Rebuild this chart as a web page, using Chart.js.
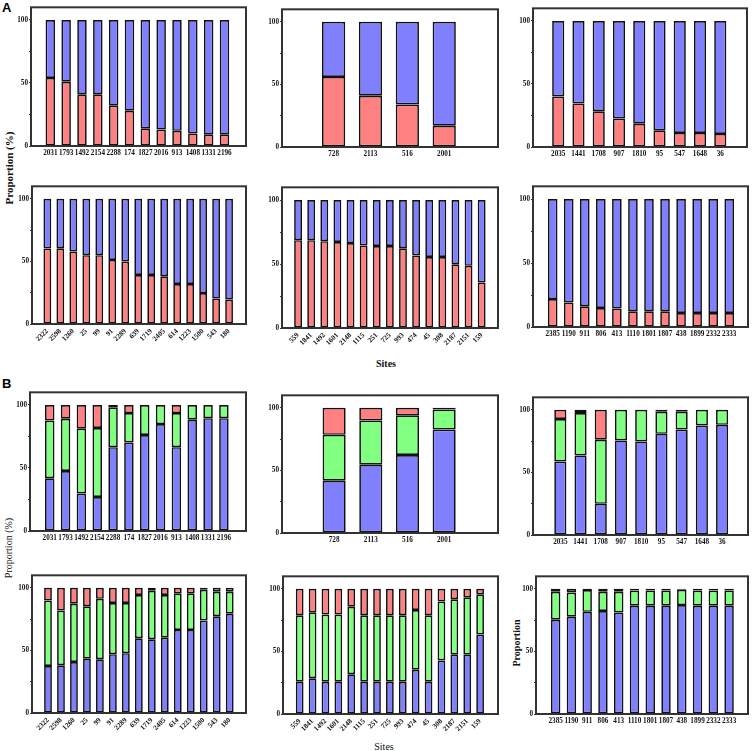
<!DOCTYPE html>
<html>
<head>
<meta charset="utf-8">
<script src="https://cdn.jsdelivr.net/npm/chart.js@4.4.1/dist/chart.umd.min.js"></script>
<style>
  body { margin: 0; background: #fff; width: 752px; height: 751px; position: relative; overflow: hidden; }
  canvas { position: absolute; }
  .t { position: absolute; font-family: "Liberation Serif", "Times New Roman", serif; color: #111; white-space: nowrap; }
  .v { transform: translate(-50%, -50%) rotate(-90deg); }
  .h { transform: translate(-50%, -50%); }
  .letter { position: absolute; font-family: "Liberation Sans", Arial, sans-serif; font-weight: bold; font-size: 13px; color: #000; }
</style>
</head>
<body>
<div class="letter" style="left:2px;top:0px">A</div>
<div class="letter" style="left:2px;top:376px">B</div>
<div class="t v" style="left:9px;top:168px;font-size:11px;font-weight:bold">Proportion (%)</div>
<div class="t v" style="left:8px;top:548px;font-size:10px">Proportion (%)</div>
<div class="t h" style="left:386px;top:363px;font-size:10px;font-weight:bold">Sites</div>
<div class="t h" style="left:384px;top:746px;font-size:10px">Sites</div>
<div class="t v" style="left:516px;top:643px;font-size:10px;font-weight:bold">Proportion</div>

<canvas id="a1"></canvas><canvas id="a2"></canvas><canvas id="a3"></canvas>
<canvas id="a4"></canvas><canvas id="a5"></canvas><canvas id="a6"></canvas>
<canvas id="b1"></canvas><canvas id="b2"></canvas><canvas id="b3"></canvas>
<canvas id="b4"></canvas><canvas id="b5"></canvas><canvas id="b6"></canvas>

<script>
// site labels (shared by A and B)
const sites1 = ['2031', '1793', '1492', '2154', '2288', '174', '1827', '2016', '913', '1408', '1331', '2196'];
const sites2 = ['728', '2113', '516', '2001'];
const sites3 = ['2035', '1441', '1708', '907', '1810', '95', '547', '1648', '36'];
const sites4 = ['2322', '2598', '1260', '25', '99', '91', '2289', '639', '1719', '2405', '614', '1223', '1500', '543', '180'];
const sites5 = ['559', '1841', '1492', '1601', '2148', '1115', '251', '725', '993', '474', '45', '308', '2187', '2151', '159'];
const sites6 = ['2385', '1190', '911', '806', '413', '1110', '1801', '1807', '438', '1899', '2332', '2333'];

const yTicks = [0, 25, 50, 75, 100];

// panel A: red (bottom) / blue (top)
const redA1 = [54, 51, 41, 41, 32, 28, 14, 13, 12, 10, 9, 9];
const blueA1 = [46, 49, 59, 59, 68, 72, 86, 87, 88, 90, 91, 91];
const redA2 = [56, 41, 34, 17];
const blueA2 = [44, 59, 66, 83];
const redA3 = [40, 34.5, 28.3, 22.6, 18.4, 13.2, 11.2, 11.2, 10.4];
const blueA3 = [60, 65.5, 71.7, 77.4, 81.6, 86.8, 88.8, 88.8, 89.6];
const redA4 = [60.3, 60.5, 57.9, 55, 55, 51.2, 49.9, 39.2, 39.2, 38.2, 32, 32, 24.7, 20.3, 19.5];
const blueA4 = [39.7, 39.5, 42.1, 45, 45, 48.8, 50.1, 60.8, 60.8, 61.8, 68, 68, 75.3, 79.7, 80.5];
const redA5 = [68.7, 68.7, 67.9, 67.2, 66.4, 64.6, 64.1, 64.1, 62.3, 56.7, 55.5, 55.5, 49.9, 48.6, 35.6];
const blueA5 = [31.3, 31.3, 32.1, 32.8, 33.6, 35.4, 35.9, 35.9, 37.7, 43.3, 44.5, 44.5, 50.1, 51.4, 64.4];
const redA6 = [21.8, 19.2, 16.2, 14.9, 14.4, 12.3, 12.3, 12.3, 11, 11, 11, 11];
const blueA6 = [78.2, 80.8, 83.8, 85.1, 85.6, 87.7, 87.7, 87.7, 89, 89, 89, 89];

// panel B: blue (bottom) / green / red (top)
const blueB1 = [41.9, 47.6, 29.8, 27, 66.5, 70.2, 76.2, 84.8, 66.5, 88.2, 89.5, 89.5];
const greenB1 = [45.8, 41.4, 51.4, 54.7, 31.7, 23.3, 23.8, 15.2, 27, 11.8, 10.5, 10.5];
const redB1 = [12.3, 11, 18.8, 18.3, 1.8, 6.5, 0, 0, 6.5, 0, 0, 0];
const blueB2 = [41.8, 54.5, 62.3, 82.6];
const greenB2 = [36.6, 35.4, 31.7, 16.1];
const redB2 = [21.6, 10.1, 6, 1.3];
const blueB3 = [58.7, 63.6, 24.9, 75.6, 74.8, 80.8, 84.2, 87.5, 88];
const greenB3 = [34, 33.8, 51.2, 24.4, 25.2, 17.6, 14.2, 12.5, 12];
const redB3 = [7.3, 2.6, 23.9, 0, 0, 1.6, 1.6, 0, 0];
const blueB4 = [37.5, 38.2, 40.8, 43.4, 42.9, 47, 47.8, 59.7, 58.9, 60.2, 66.4, 66.4, 73.9, 77.3, 79.3];
const greenB4 = [52.4, 43.7, 46.5, 41.9, 48.3, 40.9, 40.1, 34.6, 38.8, 34.1, 29.2, 29.2, 24.5, 19.6, 17.6];
const redB4 = [10.1, 18.1, 12.7, 14.7, 8.8, 12.1, 12.1, 5.7, 2.3, 5.7, 4.4, 4.4, 1.6, 3.1, 3.1];
const blueB5 = [25.8, 28.6, 25.8, 25.8, 31.8, 25.8, 25.8, 25.8, 25.8, 35.4, 25.8, 42.7, 47.4, 47.4, 63.5];
const greenB5 = [53.1, 52.6, 53.6, 53.6, 53.9, 53.1, 53.1, 53.1, 53.1, 47.7, 53.1, 47.1, 44.3, 45.8, 32.1];
const redB5 = [21.1, 18.8, 20.6, 20.6, 14.3, 21.1, 21.1, 21.1, 21.1, 16.9, 21.1, 10.2, 8.3, 6.8, 4.4];
const blueB6 = [75.3, 77.7, 81.6, 82.3, 81, 86.5, 86.5, 86.5, 87, 86.5, 86.5, 86.5];
const greenB6 = [22.4, 19.4, 17.4, 15.4, 16.7, 12.2, 12.2, 12.2, 12.2, 12.2, 12.2, 12.2];
const redB6 = [2.3, 2.9, 1, 2.3, 2.3, 1.3, 1.3, 1.3, 0.8, 1.3, 1.3, 1.3];

const RED = '#ff8080', BLUE = '#8080ff', GREEN = '#80ff80';

Chart.defaults.font.family = '"Liberation Serif", "Times New Roman", serif';

// frame around the plot area
const framePlugin = {
  id: 'frame',
  afterDraw(chart) {
    const { ctx, chartArea: a } = chart;
    ctx.save();
    ctx.strokeStyle = '#333';
    ctx.lineWidth = 2;
    ctx.strokeRect(a.left, a.top, a.right - a.left, a.bottom - a.top);
    ctx.restore();
  }
};

// box: frame edges (l,t,r,b) and centres of first/last bar, page pixels
function makePanel(id, box, sites, series, rotated) {
  const yW = 24, xH = rotated ? 24 : 16;
  const canvas = document.getElementById(id);
  canvas.width = box.r - box.l + yW + 3;
  canvas.height = box.b - box.t + 2 + xH;
  canvas.style.left = (box.l - yW) + 'px';
  canvas.style.top = (box.t - 2) + 'px';

  const n = sites.length;
  const d = (box.cn - box.c1) / (n - 1);

  new Chart(canvas, {
    type: 'bar',
    data: {
      datasets: series.map(s => ({
        data: s.data.map((v, i) => ({ x: i, y: v })),
        backgroundColor: s.color,
        borderColor: '#111',
        borderWidth: 1.7,
        borderSkipped: false,
        barPercentage: n === 4 ? 0.63 : 0.6,
        categoryPercentage: 1
      }))
    },
    options: {
      responsive: false,
      animation: false,
      layout: { padding: { top: 2, right: 3, left: 0, bottom: 0 } },
      plugins: { legend: { display: false }, tooltip: { enabled: false } },
      scales: {
        x: {
          type: 'linear',
          stacked: true,
          min: -(box.c1 - box.l) / d,
          max: (n - 1) + (box.r - box.cn) / d,
          afterBuildTicks: s => { s.ticks = sites.map((_, i) => ({ value: i })); },
          afterFit: s => { s.height = xH; },
          grid: { display: false, drawTicks: false },
          border: { display: false },
          ticks: {
            autoSkip: false,
            minRotation: rotated ? 45 : 0,
            maxRotation: rotated ? 45 : 0,
            padding: 3,
            color: '#111',
            font: { size: 7.2, weight: 'bold' },
            callback: v => sites[Math.round(v)]
          }
        },
        y: {
          stacked: true,
          min: 0,
          max: 110,
          afterBuildTicks: s => { s.ticks = yTicks.map(v => ({ value: v })); },
          afterFit: s => { s.width = yW; },
          grid: { drawOnChartArea: false, drawTicks: true, tickLength: 2, color: '#333' },
          border: { display: false },
          ticks: {
            padding: 1,
            color: '#111',
            font: { size: 7.2, weight: 'bold' },
            callback: v => (v % 50 === 0 ? v : '')
          }
        }
      }
    },
    plugins: [framePlugin]
  });
}

makePanel('a1', { l: 31, t: 4, r: 246, b: 146, c1: 42.3, cn: 232.3 }, sites1,
  [{ data: redA1, color: RED }, { data: blueA1, color: BLUE }], false);
makePanel('a2', { l: 282, t: 6, r: 498, b: 147, c1: 314.8, cn: 462.3 }, sites2,
  [{ data: redA2, color: RED }, { data: blueA2, color: BLUE }], false);
makePanel('a3', { l: 533, t: 5, r: 747, b: 147, c1: 548, cn: 730.3 }, sites3,
  [{ data: redA3, color: RED }, { data: blueA3, color: BLUE }], false);
makePanel('a4', { l: 32, t: 183, r: 246, b: 324, c1: 40.8, cn: 235.5 }, sites4,
  [{ data: redA4, color: RED }, { data: blueA4, color: BLUE }], true);
makePanel('a5', { l: 282, t: 184, r: 498, b: 328, c1: 291.5, cn: 488.2 }, sites5,
  [{ data: redA5, color: RED }, { data: blueA5, color: BLUE }], true);
makePanel('a6', { l: 533, t: 183, r: 748, b: 327, c1: 544.7, cn: 737.3 }, sites6,
  [{ data: redA6, color: RED }, { data: blueA6, color: BLUE }], false);

makePanel('b1', { l: 30, t: 389, r: 246, b: 531, c1: 41.7, cn: 231.7 }, sites1,
  [{ data: blueB1, color: BLUE }, { data: greenB1, color: GREEN }, { data: redB1, color: RED }], false);
makePanel('b2', { l: 282, t: 392, r: 498, b: 533, c1: 315.5, cn: 462.2 }, sites2,
  [{ data: blueB2, color: BLUE }, { data: greenB2, color: GREEN }, { data: redB2, color: RED }], false);
makePanel('b3', { l: 533, t: 394, r: 748, b: 535, c1: 550.3, cn: 732.3 }, sites3,
  [{ data: blueB3, color: BLUE }, { data: greenB3, color: GREEN }, { data: redB3, color: RED }], false);
makePanel('b4', { l: 32, t: 572, r: 246, b: 713, c1: 41.5, cn: 236.2 }, sites4,
  [{ data: blueB4, color: BLUE }, { data: greenB4, color: GREEN }, { data: redB4, color: RED }], true);
makePanel('b5', { l: 283, t: 573, r: 498, b: 714, c1: 293.2, cn: 486.5 }, sites5,
  [{ data: blueB5, color: BLUE }, { data: greenB5, color: GREEN }, { data: redB5, color: RED }], true);
makePanel('b6', { l: 536, t: 573, r: 748, b: 714, c1: 547.8, cn: 737 }, sites6,
  [{ data: blueB6, color: BLUE }, { data: greenB6, color: GREEN }, { data: redB6, color: RED }], false);
</script>
</body>
</html>
